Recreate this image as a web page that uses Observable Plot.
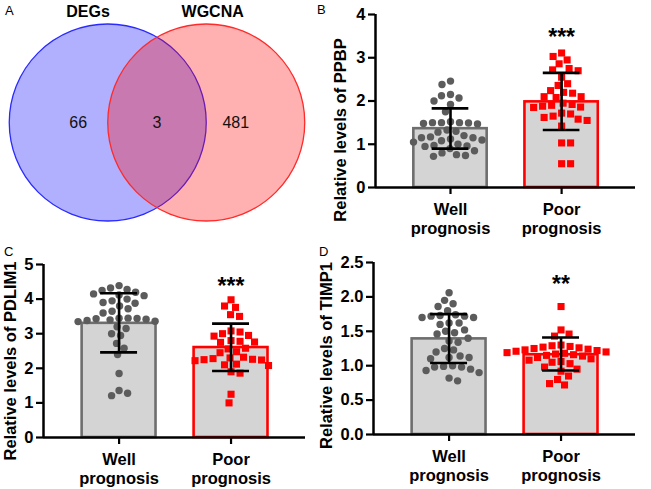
<!DOCTYPE html>
<html>
<head>
<meta charset="utf-8">
<script src="https://cdn.jsdelivr.net/npm/d3@7"></script>
<script src="https://cdn.jsdelivr.net/npm/@observablehq/plot@0.6"></script>
<style>
  body { margin: 0; background: #fff; font-family: "Liberation Sans", Arial, sans-serif; }
  #fig { position: relative; width: 651px; height: 489px; overflow: hidden; background: #fff; }
  .panel { position: absolute; }
  .letter { position: absolute; font-size: 13px; line-height: 13px; color: #000; }
</style>
</head>
<body>
<div id="fig"></div>
<script>
// ---------------- DATA ----------------
const vennSets = ["DEGs", "WGCNA"];
const vennCounts = [66, 3, 481]; // DEGs only, shared, WGCNA only

const groupLabels = ["Well\nprognosis", "Poor\nprognosis"];

const ppbpWell = [2.46, 2.38, 2.15, 2.12, 2.07, 2.00, 1.92, 1.75, 1.52, 1.50, 1.50, 1.49, 1.48, 1.47, 1.50,
  1.33, 1.30, 1.28, 1.20, 1.17, 1.15, 1.12, 1.10, 1.08, 1.05, 1.15, 1.00, 0.97, 0.96, 0.95, 0.90, 0.85,
  0.80, 0.76, 0.74, 0.72];
const ppbpPoor = [3.11, 3.03, 2.95, 2.86, 2.75, 2.72, 2.70, 2.55, 2.40, 2.36, 2.24, 2.20, 2.18, 2.10, 2.10,
  2.08, 1.95, 1.92, 1.90, 1.88, 1.86, 1.85, 1.72, 1.70, 1.65, 1.62, 1.58, 1.55, 1.42, 1.03, 1.03, 0.55, 0.55];
const ppbpMean = [1.36, 1.98];
const ppbpErrLow = [0.90, 1.33];
const ppbpErrHigh = [1.83, 2.65];
const ppbpTicks = [0, 1, 2, 3, 4];

const pdlim1Well = [4.39, 4.32, 4.28, 4.25, 4.20, 4.15, 4.12, 4.10, 4.00, 3.95, 3.90, 3.88, 3.80, 3.72, 3.65,
  3.60, 3.45, 3.45, 3.44, 3.43, 3.42, 3.40, 3.38, 3.36, 3.35, 3.20, 3.15, 3.00, 2.95, 2.72, 2.58, 2.40,
  1.85, 1.36, 1.28, 1.21];
const pdlim1Poor = [3.98, 3.80, 3.76, 3.55, 3.50, 3.08, 3.05, 3.00, 2.95, 2.93, 2.80, 2.78, 2.76, 2.75, 2.58,
  2.56, 2.48, 2.45, 2.32, 2.30, 2.28, 2.26, 2.25, 2.24, 2.22, 2.12, 2.10, 2.08, 1.90, 1.86, 1.25, 1.00];
const pdlim1Mean = [3.30, 2.60];
const pdlim1ErrLow = [2.46, 1.92];
const pdlim1ErrHigh = [4.17, 3.29];
const pdlim1Ticks = [0, 1, 2, 3, 4, 5];

const timp1Well = [2.06, 1.95, 1.90, 1.86, 1.80, 1.74, 1.73, 1.72, 1.72, 1.70, 1.70, 1.62, 1.62, 1.60, 1.52,
  1.50, 1.48, 1.46, 1.40, 1.36, 1.34, 1.25, 1.23, 1.20, 1.14, 1.12, 1.12, 1.10, 1.00, 0.99, 0.98, 0.98,
  0.95, 0.93, 0.90, 0.82, 0.78];
const timp1Poor = [1.86, 1.52, 1.46, 1.43, 1.30, 1.29, 1.28, 1.27, 1.26, 1.25, 1.24, 1.23, 1.22, 1.21, 1.20,
  1.19, 1.18, 1.17, 1.16, 1.15, 1.14, 1.12, 1.10, 1.08, 1.06, 1.05, 1.03, 0.98, 0.95, 0.92, 0.85, 0.80,
  0.74, 0.72];
const timp1Mean = [1.39, 1.16];
const timp1ErrLow = [1.04, 0.93];
const timp1ErrHigh = [1.75, 1.41];
const timp1Ticks = [0, 0.5, 1.0, 1.5, 2.0, 2.5];

const sigLabels = ["***", "***", "**"];
const sigY = [3.61, 4.54, 2.27];
const yLabels = ["Relative levels of PPBP", "Relative levels of PDLIM1", "Relative levels of TIMP1"];
const panelLetters = ["A", "B", "C", "D"];

// ---------------- LAYOUT / STYLE ----------------
const FONT = "'Liberation Sans', Arial, Helvetica, sans-serif";
const fig = document.getElementById("fig");
const X0 = 0.325, X1 = 2.665; // x domain (group index units)
const HALF = 0.33, CAP = 0.165;

function place(node, left, top) {
  node.classList.add("panel");
  node.style.left = left + "px";
  node.style.top = top + "px";
  fig.appendChild(node);
}

// deterministic beeswarm layout (pixel offsets)
function swarm(values, pxY, diam) {
  const idx = values.map((v, i) => i).sort((a, b) => values[b] - values[a]);
  const placed = [];
  const off = new Array(values.length);
  idx.forEach((i, n) => {
    const y = values[i] * pxY;
    let best = null;
    for (let k = 0; k < 400 && best === null; k++) {
      const s = k * 0.5;
      const cands = k === 0 ? [0] : (n % 2 ? [-s, s] : [s, -s]);
      for (const c of cands) {
        if (placed.every(p => (p.x - c) ** 2 + (p.y - y) ** 2 >= diam * diam)) { best = c; break; }
      }
    }
    placed.push({x: best, y});
    off[i] = best;
  });
  return off;
}

function barPanel(o) {
  const innerW = o.width - o.ml - o.mr;
  const innerH = o.height - o.mt - o.mb;
  const yMax = o.ticks[o.ticks.length - 1];
  const pxY = innerH / yMax;
  const pxX = innerW / (X1 - X0);
  const pts = [];
  [o.well, o.poor].forEach((vals, g) => {
    const offs = swarm(vals, pxY, 8.8);
    vals.forEach((v, j) => pts.push({g, x: g + 1 + offs[j] / pxX, v}));
  });
  const bars = o.mean.map((m, g) => ({g, i: g + 1, mean: m, lo: o.lo[g], hi: o.hi[g]}));
  const caps = bars.flatMap(b => [{i: b.i, y: b.lo}, {i: b.i, y: b.hi}]);
  const barStroke = ["#6e6e6e", "#ff0000"];
  return Plot.plot({
    width: o.width, height: o.height,
    marginLeft: o.ml, marginRight: o.mr, marginTop: o.mt, marginBottom: o.mb,
    style: {fontFamily: FONT, fontSize: "16.5px", fontWeight: "bold", color: "#000", background: "transparent", overflow: "visible"},
    x: {domain: [X0, X1], axis: null},
    y: {domain: [0, yMax], axis: null},
    marks: [
      Plot.rectY(bars, {x1: d => d.i - HALF, x2: d => d.i + HALF, y1: 0, y2: "mean", fill: "#d4d4d4",
        stroke: d => barStroke[d.g], strokeWidth: 2.6}),
      Plot.dot(pts.filter(d => d.g === 0), {x: "x", y: "v", r: 3.7, fill: "#5c5c5c"}),
      Plot.dot(pts.filter(d => d.g === 1), {x: "x", y: "v", r: 4.0, symbol: "square", fill: "#ff0000"}),
      Plot.ruleX(bars, {x: "i", y1: "lo", y2: "hi", stroke: "#000", strokeWidth: 2.6}),
      Plot.ruleY(caps, {y: "y", x1: d => d.i - CAP, x2: d => d.i + CAP, stroke: "#000", strokeWidth: 2.6}),
      Plot.ruleY([0], {stroke: "#000", strokeWidth: 2.5}),
      Plot.ruleX([X0], {stroke: "#000", strokeWidth: 2.5}),
      Plot.axisY(o.ticks, {tickSize: 7, tickPadding: 3, strokeWidth: 2.2, tickFormat: o.fmt, label: null}),
      Plot.axisX([1, 2], {tickSize: 7, tickPadding: 6, strokeWidth: 2.2, lineHeight: 1.2,
        tickFormat: i => groupLabels[i - 1], label: null}),
      Plot.text([o.sig], {x: 2, y: o.sigY, fontSize: 23, lineAnchor: "middle", dy: 6}),
      Plot.text([o.ylabel], {frameAnchor: "left", textAnchor: "middle", lineAnchor: "middle", rotate: -90, dx: o.ldx, dy: o.ldy})
    ]
  });
}

// ---------------- PANEL A: Venn ----------------
(function () {
  const W = 320, H = 240, R = 98.5, cxPx = 156.5, cyPx = 122;
  const sep = 1.0; // centre distance in radius units
  const circles = vennSets.map((s, k) => ({set: s, x: (k === 0 ? -1 : 1) * sep / 2, y: 0}));
  const labelX = [circles[0].x - 0.3, 0, circles[1].x + 0.3];
  const titleX = [-0.7, 0.565];
  const chart = Plot.plot({
    width: W, height: H, margin: 0,
    style: {fontFamily: FONT, background: "transparent", overflow: "visible"},
    x: {domain: [-cxPx / R, (W - cxPx) / R], axis: null},
    y: {domain: [-(H - cyPx) / R, cyPx / R], axis: null},
    marks: [
      Plot.dot(circles, {x: "x", y: "y", r: R, fill: (d, i) => ["#0000ff", "#ff0000"][i],
        fillOpacity: 0.31, stroke: (d, i) => ["#2a2aff", "#ff2a2a"][i], strokeWidth: 1.3}),
      Plot.text(vennCounts, {x: (d, i) => labelX[i], y: 0, text: d => String(d), fontSize: 16, fill: "#111"}),
      Plot.text(vennSets, {x: (d, i) => titleX[i], y: (cyPx - 11) / R, fontSize: 16, fontWeight: "bold", fill: "#000"})
    ]
  });
  place(chart, 0, 0);
})();

// ---------------- PANELS B, C, D ----------------
place(barPanel({width: 321, height: 240, ml: 45, mr: 16, mt: 14, mb: 53,
  well: ppbpWell, poor: ppbpPoor, mean: ppbpMean, lo: ppbpErrLow, hi: ppbpErrHigh,
  ticks: ppbpTicks, fmt: d3.format("d"), sig: sigLabels[0], sigY: sigY[0],
  ylabel: yLabels[0], ldx: -35, ldy: 29}), 330, 0);

place(barPanel({width: 330, height: 249, ml: 43, mr: 25, mt: 24, mb: 52,
  well: pdlim1Well, poor: pdlim1Poor, mean: pdlim1Mean, lo: pdlim1ErrLow, hi: pdlim1ErrHigh,
  ticks: pdlim1Ticks, fmt: d3.format("d"), sig: sigLabels[1], sigY: sigY[1],
  ylabel: yLabels[1], ldx: -33, ldy: 10}), 0, 240);

place(barPanel({width: 321, height: 249, ml: 43, mr: 16, mt: 22, mb: 55,
  well: timp1Well, poor: timp1Poor, mean: timp1Mean, lo: timp1ErrLow, hi: timp1ErrHigh,
  ticks: timp1Ticks, fmt: d3.format(".1f"), sig: sigLabels[2], sigY: sigY[2],
  ylabel: yLabels[2], ldx: -47, ldy: 7}), 330, 240);

// ---------------- panel letters ----------------
const letterPos = [[5, 4], [317, 3], [4, 245], [319, 245]];
panelLetters.forEach((t, i) => {
  const d = document.createElement("div");
  d.className = "letter";
  d.textContent = t;
  d.style.left = letterPos[i][0] + "px";
  d.style.top = letterPos[i][1] + "px";
  fig.appendChild(d);
});
</script>
</body>
</html>
